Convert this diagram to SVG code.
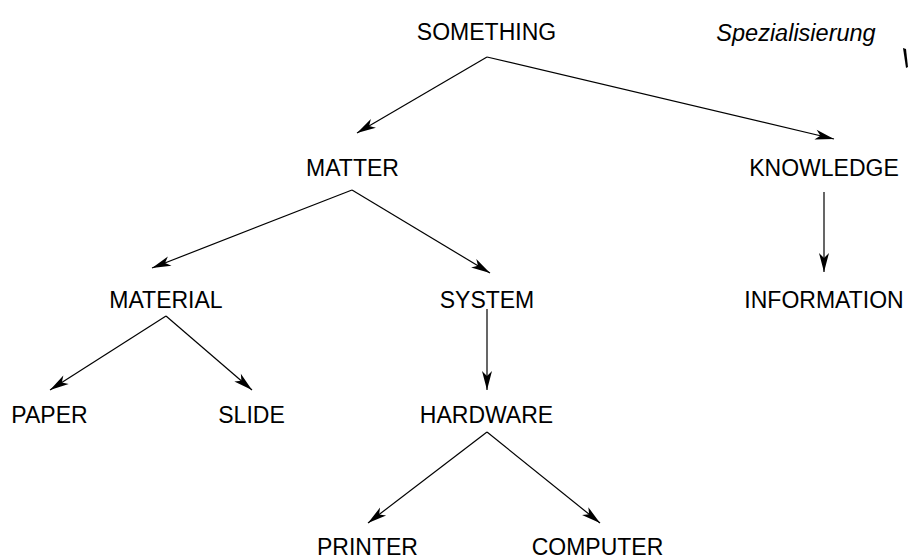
<svg xmlns="http://www.w3.org/2000/svg" width="908" height="560" viewBox="0 0 908 560">
<style>
text{font-family:"Liberation Sans",Arial,sans-serif;font-size:23px;fill:#000;text-anchor:middle}
.it{font-style:italic;font-size:23.5px}
.c{stroke:#000;stroke-width:1.2;fill:none;marker-end:url(#ah)}
</style>
<defs>
<marker id="ah" markerUnits="userSpaceOnUse" markerWidth="24" markerHeight="14" viewBox="-20 -7 22 14" refX="0" refY="0" orient="auto">
<path d="M0,0 L-19,-5 L-14,0 L-19,5 z" fill="#000"/>
</marker>
</defs>
<rect width="908" height="560" fill="#fff"/>
<g id="connectors">
<path class="c" d="M487,57 L357,133"/>
<path class="c" d="M487,57 L834,139"/>
<path class="c" d="M352,190 L152,268"/>
<path class="c" d="M352,190 L490,273"/>
<path class="c" d="M824,192 L824,272"/>
<path class="c" d="M166,316 L50,390"/>
<path class="c" d="M166,316 L252,390"/>
<path class="c" d="M487,309 L487,390"/>
<path class="c" d="M487,432 L368,523"/>
<path class="c" d="M487,432 L600,523"/>
</g>
<g id="something"><text x="486.5" y="40">SOMETHING</text></g>
<g id="spezialisierung"><text class="it" x="796" y="41">Spezialisierung</text>
<path d="M903,48 L906,49 L908,67 L906,68 z" fill="#000"/></g>
<g id="matter"><text x="352.5" y="176">MATTER</text></g>
<g id="knowledge"><text x="824" y="176">KNOWLEDGE</text></g>
<g id="material"><text x="166" y="308">MATERIAL</text></g>
<g id="system"><text x="487" y="308">SYSTEM</text></g>
<g id="information"><text x="824" y="308">INFORMATION</text></g>
<g id="paper"><text x="49.5" y="423">PAPER</text></g>
<g id="slide"><text x="251.5" y="423">SLIDE</text></g>
<g id="hardware"><text x="486.5" y="423">HARDWARE</text></g>
<g id="printer"><text x="367.5" y="555">PRINTER</text></g>
<g id="computer"><text x="597.5" y="555">COMPUTER</text></g>
</svg>
